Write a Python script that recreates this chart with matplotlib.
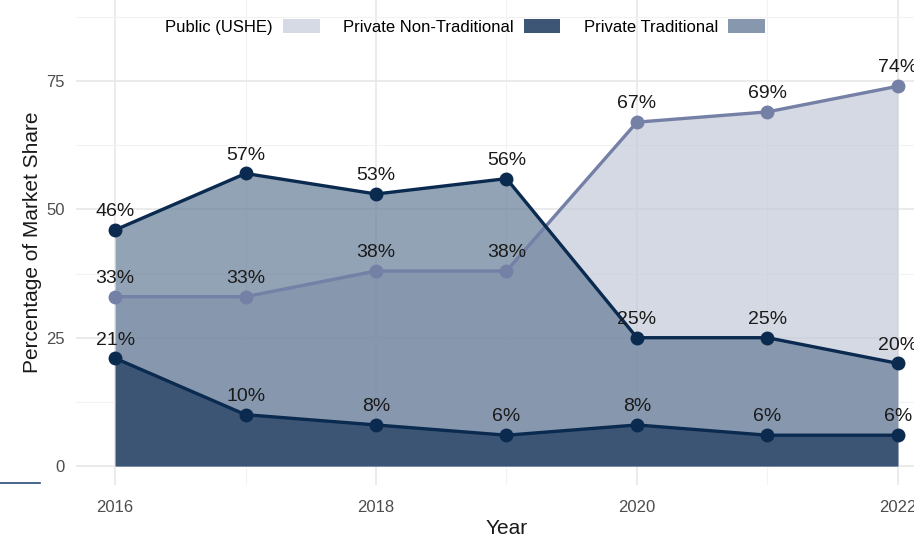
import numpy as np
import matplotlib.pyplot as plt
from matplotlib.patches import Patch
from matplotlib.lines import Line2D

plt.rcParams["font.family"] = ["Liberation Sans", "DejaVu Sans"]

years = [2016, 2017, 2018, 2019, 2020, 2021, 2022]
public_ushe = [33, 33, 38, 38, 67, 69, 74]
private_trad = [46, 57, 53, 56, 25, 25, 20]
private_nontrad = [21, 10, 8, 6, 8, 6, 6]

legend_labels = ["Public (USHE)", "Private Non-Traditional", "Private Traditional"]

fill_public = "#c4cad8"
fill_trad = "#657c98"
fill_nontrad = "#1d3a5d"
line_public = "#7480a6"
line_dark = "#0b2a50"

fig = plt.figure(figsize=(9.14, 5.41), dpi=100)
ax = fig.add_axes([76 / 914, 56 / 541, 861 / 914, 485 / 541])

ax.fill_between(years, 0, public_ushe, color=fill_public, alpha=0.7, lw=0, zorder=1)
ax.fill_between(years, 0, private_trad, color=fill_trad, alpha=0.7, lw=0, zorder=2)
ax.fill_between(years, 0, private_nontrad, color=fill_nontrad, alpha=0.7, lw=0, zorder=3)

series = [(public_ushe, line_public), (private_trad, line_dark), (private_nontrad, line_dark)]
for vals, col in series:
    ax.plot(years, vals, color=col, lw=2.4, marker="o", ms=9, zorder=5)
    for x, y in zip(years, vals):
        ax.annotate(f"{y}%", (x, y), xytext=(0, 7), textcoords="offset points",
                    ha="center", va="bottom", fontsize=14, color="#1a1a1a", zorder=6)

ax.set_xlim(2015.7, 2022.3)
ax.set_ylim(-3.7, 90.8)
ax.set_xticks([2016, 2018, 2020, 2022])
ax.set_xticks([2017, 2019, 2021], minor=True)
ax.set_yticks([0, 25, 50, 75])
ax.set_yticks([12.5, 37.5, 62.5, 87.5], minor=True)
ax.grid(which="major", color="#e6e6e6", lw=1.1)
ax.grid(which="minor", color="#f2f2f2", lw=0.8)
ax.set_axisbelow(True)
ax.tick_params(which="both", length=0)
ax.tick_params(axis="x", pad=11, labelsize=12, labelcolor="#4d4d4d")
ax.tick_params(axis="y", pad=8, labelsize=12, labelcolor="#4d4d4d")
for s in ax.spines.values():
    s.set_visible(False)

ax.set_xlabel("Year", fontsize=15, color="#1a1a1a", labelpad=3)
ax.set_ylabel("Percentage of Market Share", fontsize=15, color="#1a1a1a", labelpad=3)

handles = [Patch(facecolor="#d6dae4", edgecolor="none"),
           Patch(facecolor="#3d5675", edgecolor="none"),
           Patch(facecolor="#8797ae", edgecolor="none")]
fig.legend(handles, legend_labels, ncol=3, markerfirst=False, frameon=False,
           loc="center", bbox_to_anchor=(465 / 914, 1 - 27 / 541), fontsize=12,
           handlelength=2.2, handleheight=0.9, columnspacing=1.4, handletextpad=0.6)

# screenshot remnant at the left edge
fig.add_artist(Line2D([0, 40 / 914], [1 - 483 / 541, 1 - 483 / 541], color="#2a4a78", lw=1.2))

fig.savefig("out.png", dpi=100)
